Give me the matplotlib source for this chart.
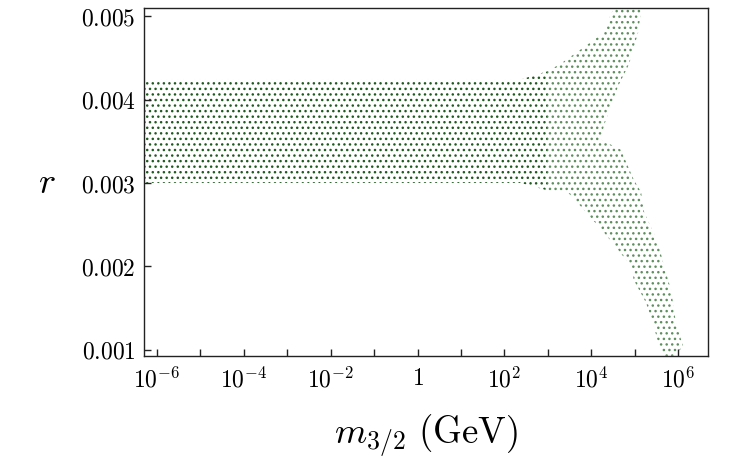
import numpy as np
import matplotlib
matplotlib.use("Agg")
import matplotlib.pyplot as plt

plt.rcParams['mathtext.fontset'] = 'cm'
plt.rcParams['font.family'] = ['DejaVu Serif']
plt.rcParams['hatch.linewidth'] = 1.0

# Envelope of the dense part of the scan (log10 m_{3/2}/GeV, r)
core_logm = [-6.40, 2.38, 3.00, 3.00, 2.38, -6.40]
core_r = [0.00300, 0.00300, 0.00291, 0.00434, 0.00424, 0.00424]

# Envelope of the forked, sparser part of the scan
fork_logm = [3.00, 3.46, 3.83, 4.29, 4.62, 4.92, 4.98, 5.26, 5.42, 5.54, 5.68,
             5.90, 6.12, 5.95, 5.84, 5.68, 5.54, 5.22, 5.15, 4.98, 4.68,
             4.22, 4.29, 4.45, 4.62, 4.87, 5.08, 5.17,
             4.59, 4.45, 4.29, 3.76, 3.30, 3.00]
fork_r = [0.00291, 0.00289, 0.00268, 0.00241, 0.00220, 0.00200, 0.00184, 0.00157,
          0.00133, 0.00109, 0.00093, 0.00093, 0.00104, 0.00133, 0.00172, 0.00200,
          0.00229, 0.00265, 0.00289, 0.00304, 0.00340,
          0.00352, 0.00368, 0.00392, 0.00416, 0.00442, 0.00480, 0.00514,
          0.00514, 0.00502, 0.00480, 0.00460, 0.00443, 0.00434]

x_major = [-6, -5, -4, -3, -2, -1, 0, 1, 2, 3, 4, 5, 6]
x_label_exps = [-6, -4, -2, 0, 2, 4, 6]
x_tick_labels = [r'$10^{-6}$', r'$10^{-4}$', r'$10^{-2}$', r'$1$',
                 r'$10^{2}$', r'$10^{4}$', r'$10^{6}$']
y_ticks = [0.001, 0.002, 0.003, 0.004, 0.005]
y_tick_labels = [r'$0.001$', r'$0.002$', r'$0.003$', r'$0.004$', r'$0.005$']

dot_color = '#1f5a1f'
fork_color = '#5f8f5f'

fig = plt.figure(figsize=(7.53, 4.65), dpi=100)
ax = fig.add_axes([0.1912, 0.2344, 0.9402 - 0.1912, 0.9828 - 0.2344])

core_x = 10.0 ** np.array(core_logm)
fork_x = 10.0 ** np.array(fork_logm)
ax.fill(core_x, core_r, facecolor='none', edgecolor=dot_color, linewidth=0, hatch='...')
ax.fill(fork_x, fork_r, facecolor='none', edgecolor=fork_color, linewidth=0, hatch='...')

ax.set_xscale('log')
ax.set_xlim(10 ** -6.30, 10 ** 6.69)
ax.set_ylim(0.000928, 0.005096)

ax.xaxis.set_major_locator(matplotlib.ticker.FixedLocator([10.0 ** e for e in x_major]))
ax.xaxis.set_minor_locator(matplotlib.ticker.NullLocator())
lab_map = dict(zip(x_label_exps, x_tick_labels))
ax.set_xticklabels([lab_map.get(e, '') for e in x_major])
ax.set_yticks(y_ticks)
ax.set_yticklabels(y_tick_labels)

ax.tick_params(axis='both', direction='in', length=5, width=1.0, labelsize=17,
               top=False, right=False, colors='#222222', labelcolor='black')
ax.tick_params(axis='x', pad=8)
ax.tick_params(axis='y', pad=6)
for s in ax.spines.values():
    s.set_color('#222222')
    s.set_linewidth(1.0)

ax.set_xlabel(r'$m_{3/2}\ \mathrm{(GeV)}$', fontsize=26.5, labelpad=14)
ax.set_ylabel(r'$r$', fontsize=26, rotation=0, va='center')
ax.yaxis.set_label_coords(-0.173, 0.497)

fig.savefig('out.png', dpi=100)
